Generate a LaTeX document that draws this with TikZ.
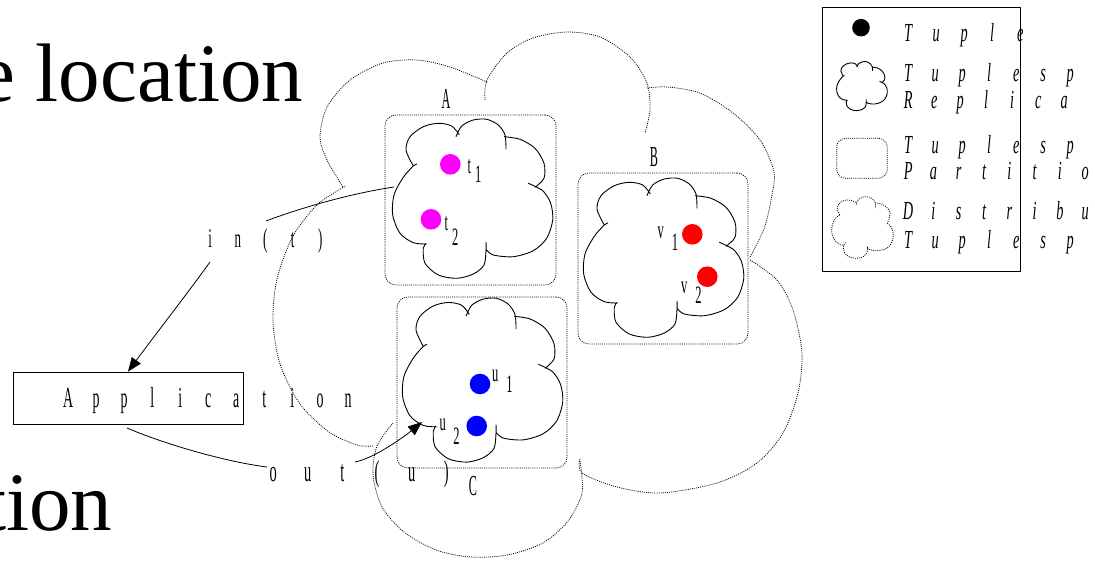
\documentclass[tikz,border=0pt]{standalone}
\usepackage{fontspec}
\setmainfont{Liberation Serif}
\usetikzlibrary{arrows.meta}
\definecolor{tmag}{RGB}{255,0,255}
\definecolor{tred}{RGB}{255,0,0}
\definecolor{tblue}{RGB}{0,0,255}
\makeatletter
\newcommand\lspread[3]{\@tfor\sprltr:=#3\do{\makebox[#1]{\scalebox{#2}[1]{\sprltr}}}}
\makeatother
\newcommand\sublbl[4]{\scalebox{0.5}[1]{#1}\hspace{#3}\raisebox{-#4}{\scalebox{0.5}[1]{#2}}}
\tikzset{
  dotl/.style={line width=0.75pt, dash pattern=on 1pt off 1.1pt},
  solidl/.style={line width=0.9pt},
  partbox/.style={draw, dotl, rounded corners=11pt, inner sep=0},
  lab/.style={inner sep=0, anchor=base, font=\fontsize{29}{29}\selectfont},
  sublab/.style={inner sep=0, anchor=base west, font=\fontsize{25}{25}\selectfont},
  sptext/.style={inner sep=0, anchor=base west},
  lgtext/.style={inner sep=0, anchor=base west, font=\fontsize{26}{26}\selectfont\itshape},
  tupledot/.style={circle, inner sep=0, minimum size=20.6pt, draw=none},
  arr/.style={line width=0.8pt, -{Triangle[length=14pt,width=11pt]}},
  conn/.style={line width=0.8pt},
  smallcloud/.pic={
    \draw[solidl]
      plot[smooth] coordinates {(21.3,48) (14,32) (18,18.7) (31.3,8.7) (46.3,5.3) (59.7,8) (67.3,17)}
      plot[smooth] coordinates {(64,18.7) (69.7,8) (81.3,2) (94.7,1.3) (106.3,7) (113,17) (114,31.3)}
      plot[smooth] coordinates {(112,18.7) (128,21.3) (143,30.3) (152,45.3) (152,60.3) (143,69.3)}
      plot[smooth] coordinates {(136.3,65.3) (150.7,72.7) (158.7,85.3) (160.7,102) (154.7,120.3) (141.3,132.7) (121.3,138.7) (101.3,137) (94,131.3)}
      plot[smooth] coordinates {(94,124) (94,132) (92,147) (81.3,156) (64.7,160.3) (46.3,157) (33,145.3) (31.3,130.3) (34,125.3)}
      plot[smooth] coordinates {(34.7,126) (21.3,124.7) (8,115.3) (0.7,97) (2,77) (11.3,59.3) (21.3,48) (25,46)};
  },
  bigcloud/.pic={
    \draw[dotl, shift={(-273,-32)}]
      plot[smooth] coordinates {(343,187) (327,160) (320,137) (327,107) (350,80) (383,63) (417,60) (450,67) (487,82)}
      plot[smooth] coordinates {(485,100) (487,80) (507,53) (533,38) (567,32) (600,37) (630,57) (647,83) (650,110) (645,133)}
      plot[smooth] coordinates {(647,88) (667,87) (700,93) (733,113) (760,140) (774,172) (771,200) (764,229) (750,257)}
      plot[smooth] coordinates {(750,260) (777,280) (793,310) (802,353) (798,393) (783,433) (757,463) (717,483) (660,493) (617,487) (582,473) (580,458)}
      plot[smooth] coordinates {(580,461) (582,493) (568,521) (543,543) (507,555) (471,557) (436,550) (404,532) (382,507) (373,475) (377,446) (393,423)}
      plot[smooth] coordinates {(373,446) (357,445) (329,432) (300,404) (280,364) (273,321) (277,279) (293,236) (318,204) (346,186)};
  }
}
\begin{document}
\begin{tikzpicture}[x=1pt,y=-1pt]
\useasboundingbox (0,0) rectangle (1095,561);

% large background text
\node[inner sep=0, anchor=base west, font=\fontsize{83}{83}\selectfont] (title1) at (-22,102) {e location};
\node[inner sep=0, anchor=base west, font=\fontsize{83}{83}\selectfont] (title2) at (-17,530) {tion};

% distributed tuple space
\pic (dist) at (273,32) {bigcloud};

% partitions
\node[partbox, minimum width=171pt, minimum height=170pt] (boxA) at (470.5,200) {};
\node[partbox, minimum width=170pt, minimum height=171pt] (boxB) at (663,258.5) {};
\node[partbox, minimum width=170pt, minimum height=171pt] (boxC) at (482,382.5) {};
\node[lab] (labA) at (446,109) {\scalebox{0.42}[1]{A}};
\node[lab] (labB) at (654,167) {\scalebox{0.42}[1]{B}};
\node[lab] (labC) at (473,495) {\scalebox{0.42}[1]{C}};

% replicas
\pic (cloudA) at (392,118) {smallcloud};
\pic (cloudB) at (583,177) {smallcloud};
\pic[yscale=1.03] (cloudC) at (402,297) {smallcloud};

% tuples
\node[tupledot, fill=tmag] (t1) at (450.3,164.3) {};
\node[tupledot, fill=tmag] (t2) at (431,219.3) {};
\node[tupledot, fill=tred] (v1) at (692.3,234.3) {};
\node[tupledot, fill=tred] (v2) at (707.3,276.7) {};
\node[tupledot, fill=tblue] (u1) at (480,384) {};
\node[tupledot, fill=tblue] (u2) at (476.7,426) {};
\node[sublab] (lt1) at (467.5,173.3) {\sublbl{t}{1}{4pt}{9.4pt}};
\node[sublab] (lt2) at (444.5,230.7) {\sublbl{t}{2}{4pt}{15pt}};
\node[sublab] (lv1) at (657.5,239) {\sublbl{v}{1}{8pt}{11.7pt}};
\node[sublab] (lv2) at (681,294) {\sublbl{v}{2}{8pt}{10pt}};
\node[sublab] (lu1) at (492,381.7) {\sublbl{u}{1}{8pt}{10.6pt}};
\node[sublab] (lu2) at (439.5,430.7) {\sublbl{u}{2}{7.5pt}{13.3pt}};

% application
\node[draw, line width=0.8pt, minimum width=230pt, minimum height=52pt, inner sep=0] (app) at (128,398) {};
\node[sptext, font=\fontsize{29}{29}\selectfont] (apptxt) at (54,407) {\lspread{28pt}{0.48}{Application}};
\node[sptext, font=\fontsize{27}{27}\selectfont] (intxt) at (196.3,248) {\lspread{27.5pt}{0.48}{in(t)}};
\node[sptext, font=\fontsize{30}{30}\selectfont] (outtxt) at (255.7,481) {\lspread{34.6pt}{0.48}{out(u)}};

% connectors
\coordinate (inA) at (394,187);
\coordinate (inB) at (266,221);
\coordinate (inC) at (210,262);
\draw[conn] (inA) .. controls (354,193) and (306,206) .. (inB);
\draw[arr] (inC) .. controls (190,290) and (155,335) .. (app.north);
\coordinate (outA) at (127,428);
\coordinate (outB) at (267,467);
\draw[conn] (outA) .. controls (167,445) and (227,462) .. (outB);
\coordinate (outC) at (355,462);
\coordinate (cCin) at (422,422);
\draw[arr] (outC) .. controls (375,458) and (405,436) .. (cCin);

% legend
\node[draw, line width=0.8pt, minimum width=198pt, minimum height=264.4pt, inner sep=0] (legend) at (921.7,139.5) {};
\node[tupledot, fill=black, minimum size=17.6pt] (lgdot) at (861,27.7) {};
\pic[xscale=0.316, yscale=0.308] (lgcloud) at (836.5,61.3) {smallcloud};
\node[partbox, rounded corners=9pt, minimum width=50.6pt, minimum height=40pt] (lgpart) at (862,158.3) {};
\pic[xscale=0.1164, yscale=0.1173] (lgdist) at (831.7,196.7) {bigcloud};
\node[lgtext] (lg1) at (894,41.7) {\lspread{28pt}{0.55}{Tuple}};
\node[lgtext] (lg2) at (894.5,82) {\lspread{27pt}{0.55}{Tuplesp}};
\node[lgtext] (lg3) at (895,108.3) {\lspread{26pt}{0.55}{Replica}};
\node[lgtext] (lg4) at (894.5,153.3) {\lspread{27pt}{0.55}{Tuplesp}};
\node[lgtext] (lg5) at (895.3,180) {\lspread{25.3pt}{0.55}{Partitio}};
\node[lgtext] (lg6) at (895.3,220) {\lspread{25.3pt}{0.55}{Distribu}};
\node[lgtext] (lg7) at (894.5,248.3) {\lspread{27pt}{0.55}{Tuplesp}};
\end{tikzpicture}
\end{document}
